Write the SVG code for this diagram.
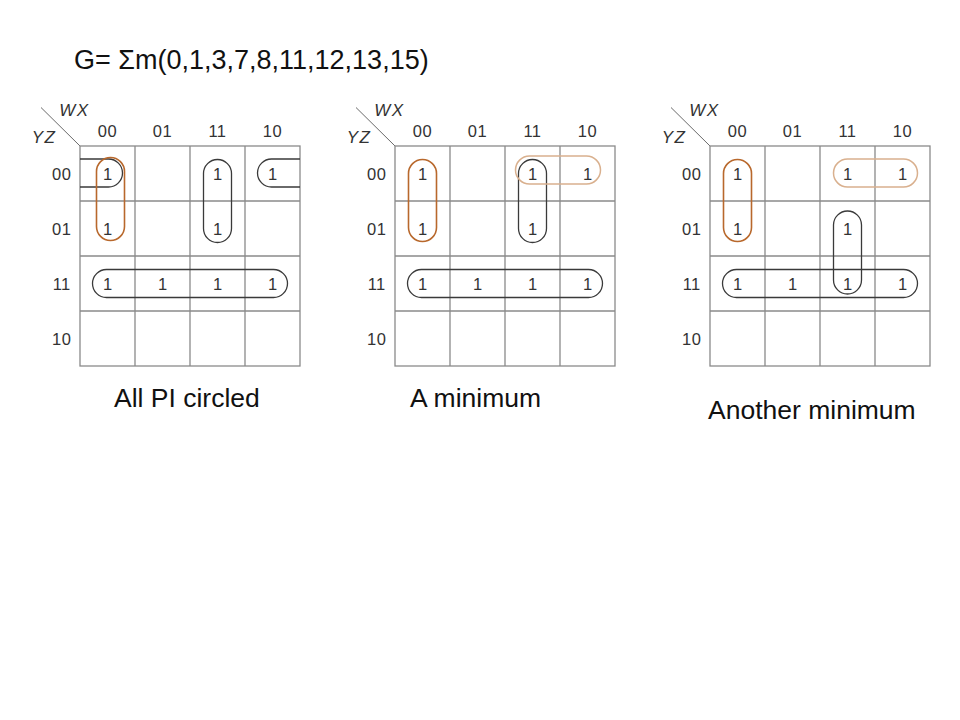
<svg xmlns="http://www.w3.org/2000/svg" width="960" height="720" viewBox="0 0 960 720">
<style>
.bg{fill:#ffffff}
.grid{fill:none;stroke:#8a8a8a;stroke-width:1.3}
.diag{stroke:#6a6a6a;stroke-width:1}
.var{font-family:"Liberation Sans",Arial,sans-serif;font-size:17px;font-style:italic;fill:#333333;letter-spacing:1.5px}
.hdr{font-family:"Liberation Sans",Arial,sans-serif;font-size:16.5px;fill:#333333;text-anchor:middle;letter-spacing:0.5px}
.one{font-family:"Liberation Sans",Arial,sans-serif;font-size:16.5px;fill:#333333;text-anchor:middle}
.lp{fill:none;stroke:#3a3a3a;stroke-width:1.3}
.lo{fill:none;stroke:#b8682c;stroke-width:1.6}
.lt{fill:none;stroke:#d9b08e;stroke-width:1.5}
.cap{font-family:"Liberation Sans",Arial,sans-serif;font-size:26.5px;fill:#111111}
</style>
<defs>
<g id="kbase">
<line class="diag" x1="-39" y1="-38.5" x2="0" y2="0"/>
<text class="var" x="-20.7" y="-29.7">WX</text>
<text class="var" x="-48.3" y="-3">YZ</text>
<text class="hdr" x="27.5" y="-9">00</text>
<text class="hdr" x="82.5" y="-9">01</text>
<text class="hdr" x="137.5" y="-9">11</text>
<text class="hdr" x="192.5" y="-9">10</text>
<text class="hdr" x="-18.3" y="33.7">00</text>
<text class="hdr" x="-18.3" y="88.7">01</text>
<text class="hdr" x="-18.3" y="143.7">11</text>
<text class="hdr" x="-18.3" y="198.7">10</text>
<rect class="grid" x="0" y="0" width="220" height="220"/>
<path class="grid" d="M55,0V220M110,0V220M165,0V220M0,55H220M0,110H220M0,165H220"/>
<text class="one" x="27.5" y="33.5">1</text>
<text class="one" x="137.5" y="33.5">1</text>
<text class="one" x="192.5" y="33.5">1</text>
<text class="one" x="27.5" y="88.5">1</text>
<text class="one" x="137.5" y="88.5">1</text>
<text class="one" x="27.5" y="143.5">1</text>
<text class="one" x="82.5" y="143.5">1</text>
<text class="one" x="137.5" y="143.5">1</text>
<text class="one" x="192.5" y="143.5">1</text>
</g>
</defs>
<rect class="bg" x="0" y="0" width="960" height="720"/>
<text id="title" class="cap" x="74" y="69" style="font-size:27px">G= Σm(0,1,3,7,8,11,12,13,15)</text>

<g id="map1" transform="translate(80,146)">
<use href="#kbase"/>
<path class="lp" d="M0,13H28.5A14,14 0 0 1 28.5,41H0"/>
<path class="lp" d="M220,13H191.5A14,14 0 0 0 191.5,41H220"/>
<rect class="lp" x="123.5" y="13.5" width="28" height="83" rx="14"/>
<rect class="lp" x="12.5" y="123.5" width="195" height="28" rx="14"/>
<rect class="lo" x="16.5" y="11.5" width="28" height="83" rx="14"/>
</g>

<g id="map2" transform="translate(395,146)">
<use href="#kbase"/>
<rect class="lp" x="123.5" y="13.5" width="28" height="83" rx="14"/>
<rect class="lp" x="12.5" y="123.5" width="195" height="28" rx="14"/>
<rect class="lo" x="13.5" y="13.5" width="28" height="82" rx="14"/>
<rect class="lt" x="120.5" y="10" width="85" height="28" rx="14"/>
</g>

<g id="map3" transform="translate(710,146)">
<use href="#kbase"/>
<rect class="lp" x="123.5" y="65" width="28" height="83" rx="14"/>
<rect class="lp" x="12.5" y="123.5" width="195" height="28" rx="14"/>
<rect class="lo" x="13.5" y="13.5" width="28" height="82" rx="14"/>
<rect class="lt" x="123.5" y="13" width="84" height="28" rx="14"/>
</g>

<g id="connectors"></g>

<text id="cap1" class="cap" x="114" y="407">All PI circled</text>
<text id="cap2" class="cap" x="410" y="407">A minimum</text>
<text id="cap3" class="cap" x="708" y="419">Another minimum</text>
</svg>
